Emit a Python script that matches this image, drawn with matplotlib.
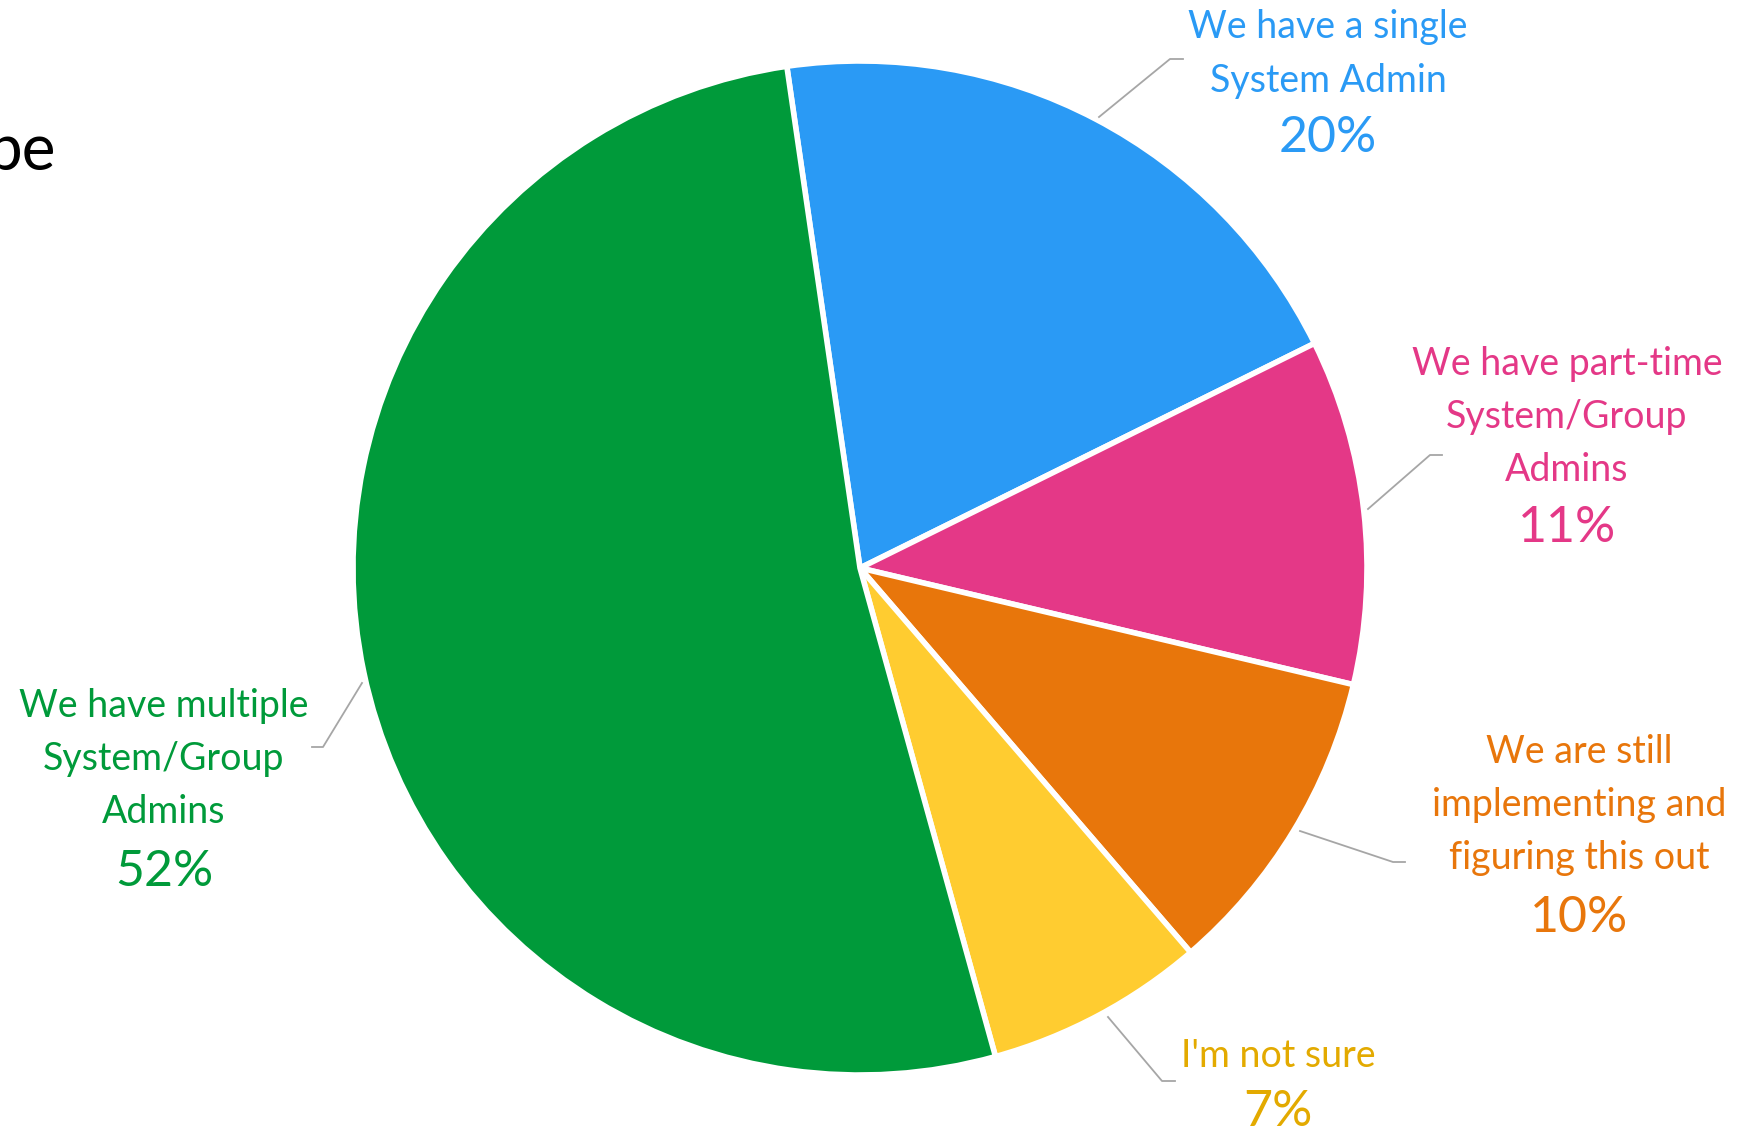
import matplotlib.pyplot as plt

plt.rcParams['font.family'] = ['Lato', 'DejaVu Sans']

# data
labels = ['We have a single\nSystem Admin',
          'We have part-time\nSystem/Group\nAdmins',
          'We are still\nimplementing and\nfiguring this out',
          "I'm not sure",
          'We have multiple\nSystem/Group\nAdmins']
values = [20, 11, 10, 7, 52]
colors = ['#2A9AF5', '#E43887', '#E8760B', '#FFCC30', '#009A3A']
text_colors = ['#2A9AF5', '#E43887', '#E8760B', '#E3AA00', '#009A3A']

W, H = 1765, 1137
fig = plt.figure(figsize=(W / 100, H / 100), dpi=100)
ax = fig.add_axes([0, 0, 1, 1])

cx, cy, r = 860, 568, 507
ax.pie(values, colors=colors, startangle=98.3, counterclock=False,
       center=(cx, H - cy), radius=r,
       wedgeprops=dict(edgecolor='white', linewidth=4))

# label layout in pixel coords (x, y of text block centre, y of percent)
label_pos = [(1328, 54, 138), (1567, 417, 528), (1579, 805, 918),
             (1278, 1056, 1112), (164, 759, 872)]
leaders = [[(1099, 117), (1170, 59), (1183, 59)],
           [(1368, 509), (1430, 455), (1442, 455)],
           [(1300, 831), (1393, 862), (1405, 862)],
           [(1108, 1017), (1162, 1081), (1175, 1081)],
           [(362, 683), (323, 747), (312, 747)]]

for lab, val, col, (x, y, yp), pts in zip(labels, values, text_colors, label_pos, leaders):
    ax.text(x, H - y, lab, color=col, fontsize=27, ha='center', va='center',
            linespacing=1.6)
    ax.text(x, H - yp, f'{val}%', color=col, fontsize=36, ha='center', va='center')
    ax.plot([p[0] for p in pts], [H - p[1] for p in pts], color='#A6A6A6', lw=1.3)

# cut-off title fragment at the left edge
ax.text(-14, H - 170, 'pe', fontsize=46, color='black', ha='left', va='baseline')

ax.set_xlim(0, W)
ax.set_ylim(0, H)
ax.set_aspect('equal')
ax.axis('off')

fig.savefig('out.png', dpi=100)
